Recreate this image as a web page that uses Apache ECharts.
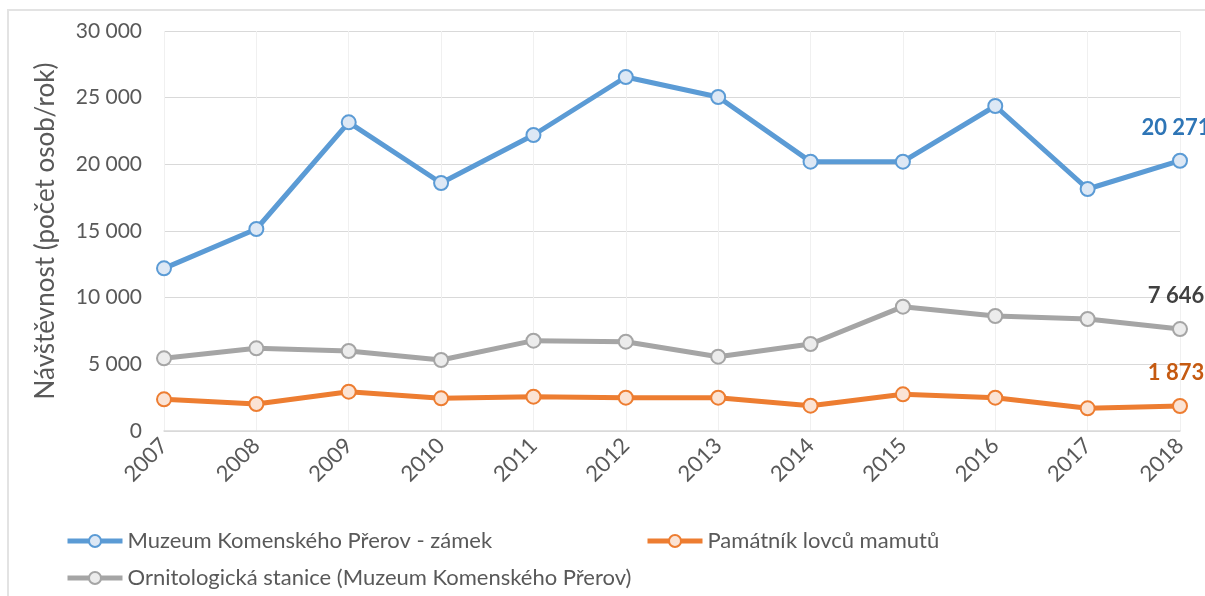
<!DOCTYPE html>
<html>
<head>
<meta charset="utf-8">
<script src="https://cdn.jsdelivr.net/npm/echarts@6/dist/echarts.min.js"></script>
<style>
html, body { margin: 0; padding: 0; background: #fff; }
#chart { width: 1205px; height: 596px; }
</style>
</head>
<body>
<div id="chart"></div>
<script>
// roky
var years = ['2007','2008','2009','2010','2011','2012','2013','2014','2015','2016','2017','2018'];
// návštěvnost
var zamek = [12200, 15150, 23150, 18600, 22200, 26550, 25050, 20200, 20200, 24375, 18150, 20271];
var mamuti = [2375, 2025, 2950, 2450, 2575, 2500, 2500, 1900, 2750, 2500, 1700, 1873];
var ornito = [5450, 6200, 6000, 5325, 6775, 6700, 5575, 6525, 9325, 8625, 8400, 7646];
var names = ['Muzeum Komenského Přerov - zámek', 'Památník lovců mamutů', 'Ornitologická stanice (Muzeum Komenského Přerov)'];

var font = 'Lato';

function fmt(v) {
	return String(v).replace(/\B(?=(\d{3})+(?!\d))/g, ' ');
}

// posledni bod s popiskem
function lastLabel(arr, color) {
	return arr.map(function (v, i) {
		if (i < arr.length - 1) return v;
		return {
			value: v,
			label: {
				show: true,
				position: 'top',
				distance: 18,
				offset: [-4, 4],
				color: color,
				fontFamily: font,
				fontWeight: 'bold',
				fontSize: 22,
				formatter: function (p) { return fmt(p.value); }
			}
		};
	});
}

function lineSeries(name, arr, color, fill, labelColor) {
	return {
		name: name,
		type: 'line',
		data: lastLabel(arr, labelColor),
		symbol: 'circle',
		symbolSize: 14,
		lineStyle: { color: color, width: 5 },
		itemStyle: { color: fill, borderColor: color, borderWidth: 2 },
		emphasis: { disabled: true },
		animation: false
	};
}

function legendAt(name, left, top) {
	return {
		data: [name],
		left: left, top: top,
		padding: 0,
		itemWidth: 55, itemHeight: 15,
		lineStyle: { width: 5 },
		textStyle: { fontFamily: font, fontSize: 22, color: '#595959' }
	};
}

var chart = echarts.init(document.getElementById('chart'));
var option = {
	backgroundColor: '#fff',
	graphic: [{
		type: 'rect',
		shape: { x: 8, y: 10, width: 1220, height: 620 },
		style: { fill: 'none', stroke: '#e3e3e3', lineWidth: 2 }
	}],
	grid: { left: 164, right: 25, top: 31, bottom: 165 },
	legend: [
		legendAt(names[0], 65, 530),
		legendAt(names[1], 645, 530),
		legendAt(names[2], 65, 567)
	],
	xAxis: {
		type: 'category',
		data: years,
		boundaryGap: false,
		axisLine: { lineStyle: { color: '#d9d9d9', width: 1.5 } },
		axisTick: { show: false },
		axisLabel: { rotate: 45, margin: 11, fontFamily: font, fontSize: 22, color: '#595959' },
		splitLine: { show: true, lineStyle: { color: '#f0f0f0' } }
	},
	yAxis: {
		type: 'value',
		min: 0, max: 30000, interval: 5000,
		name: 'Návštěvnost (počet osob/rok)',
		nameLocation: 'middle',
		nameGap: 105,
		nameTextStyle: { fontFamily: font, fontSize: 26, color: '#595959' },
		axisLine: { show: false },
		axisTick: { show: false },
		axisLabel: { margin: 22, fontFamily: font, fontSize: 21, color: '#595959', formatter: fmt },
		splitLine: { lineStyle: { color: '#d9d9d9', width: 1.2 } }
	},
	series: [
		lineSeries(names[0], zamek, '#5b9bd5', '#dde8f5', '#2e75b6'),
		lineSeries(names[1], mamuti, '#ed7d31', '#fbe3d4', '#c55a11'),
		lineSeries(names[2], ornito, '#a5a5a5', '#ececec', '#404040')
	]
};
chart.setOption(option);
</script>
</body>
</html>
